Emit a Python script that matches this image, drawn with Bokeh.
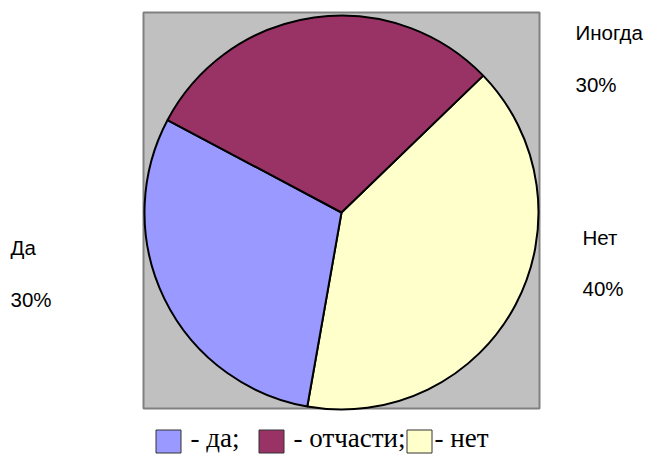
import math
from bokeh.plotting import figure
from bokeh.models import Range1d
from bokeh.core.properties import value
from bokeh.embed import file_html
from bokeh.resources import INLINE

# ---- data ----
pie_labels = ["Нет", "Да", "Иногда"]       # clockwise order from start angle
pie_shares = [40, 30, 30]
pie_colors = ["#FFFFCC", "#9999FF", "#993366"]
pie_texts = ["40%", "30%", "30%"]

legend_labels = ["- да;", "- отчасти;", "- нет"]
legend_colors = ["#9999FF", "#993366", "#FFFFCC"]

# ---- layout (screen pixels, y downward) ----
W, H = 646, 454
def sy(y):
    return H - y

CX, CY, R = 341, 212, 197
START_DEG = 44
label_pos = {"Нет": (582, 237, 288), "Да": (10, 247, 299), "Иногда": (575, 32, 84)}
legend_sq_x = [168, 271, 419]
legend_tx_x = [190, 293, 434]
legend_sq_y = 441
legend_tx_y = 437

p = figure(width=W, height=H, output_backend="svg", toolbar_location=None,
           x_range=Range1d(0, W), y_range=Range1d(0, H), min_border=0)
p.axis.visible = False
p.grid.visible = False
p.outline_line_color = None
p.background_fill_color = "white"
p.border_fill_color = "white"

# plot area
p.quad(left=[143], right=[539], top=[sy(12)], bottom=[sy(408)],
       fill_color="#C0C0C0", line_color="#808080", line_width=2)

total = sum(pie_shares)
starts, ends = [], []
acc = 0
for v in pie_shares:
    s = math.radians(START_DEG - acc / total * 360)
    acc += v
    e = math.radians(START_DEG - acc / total * 360)
    starts.append(s)
    ends.append(e)

p.wedge(x=[CX] * 3, y=[sy(CY)] * 3, radius=R, start_angle=starts, end_angle=ends,
        direction="clock", fill_color=pie_colors, line_color="black", line_width=2)

for name, pct in zip(pie_labels, pie_texts):
    x, y1, y2 = label_pos[name]
    p.text(x=[x, x], y=[sy(y1), sy(y2)], text=[name, pct],
           text_font=value("Liberation Sans"), text_font_size="20.5px",
           text_color="black", text_baseline="alphabetic", text_align="left")

p.rect(x=legend_sq_x, y=[sy(legend_sq_y)] * 3, width=25, height=23,
       fill_color=legend_colors, line_color="#333333", line_width=1)
p.text(x=legend_tx_x, y=[sy(legend_tx_y)] * 3, text=legend_labels,
       text_font=value("Liberation Serif"), text_font_size="27px",
       text_color="black", text_baseline="alphabetic", text_align="left")

open("out.html", "w").write(file_html(p, INLINE))
